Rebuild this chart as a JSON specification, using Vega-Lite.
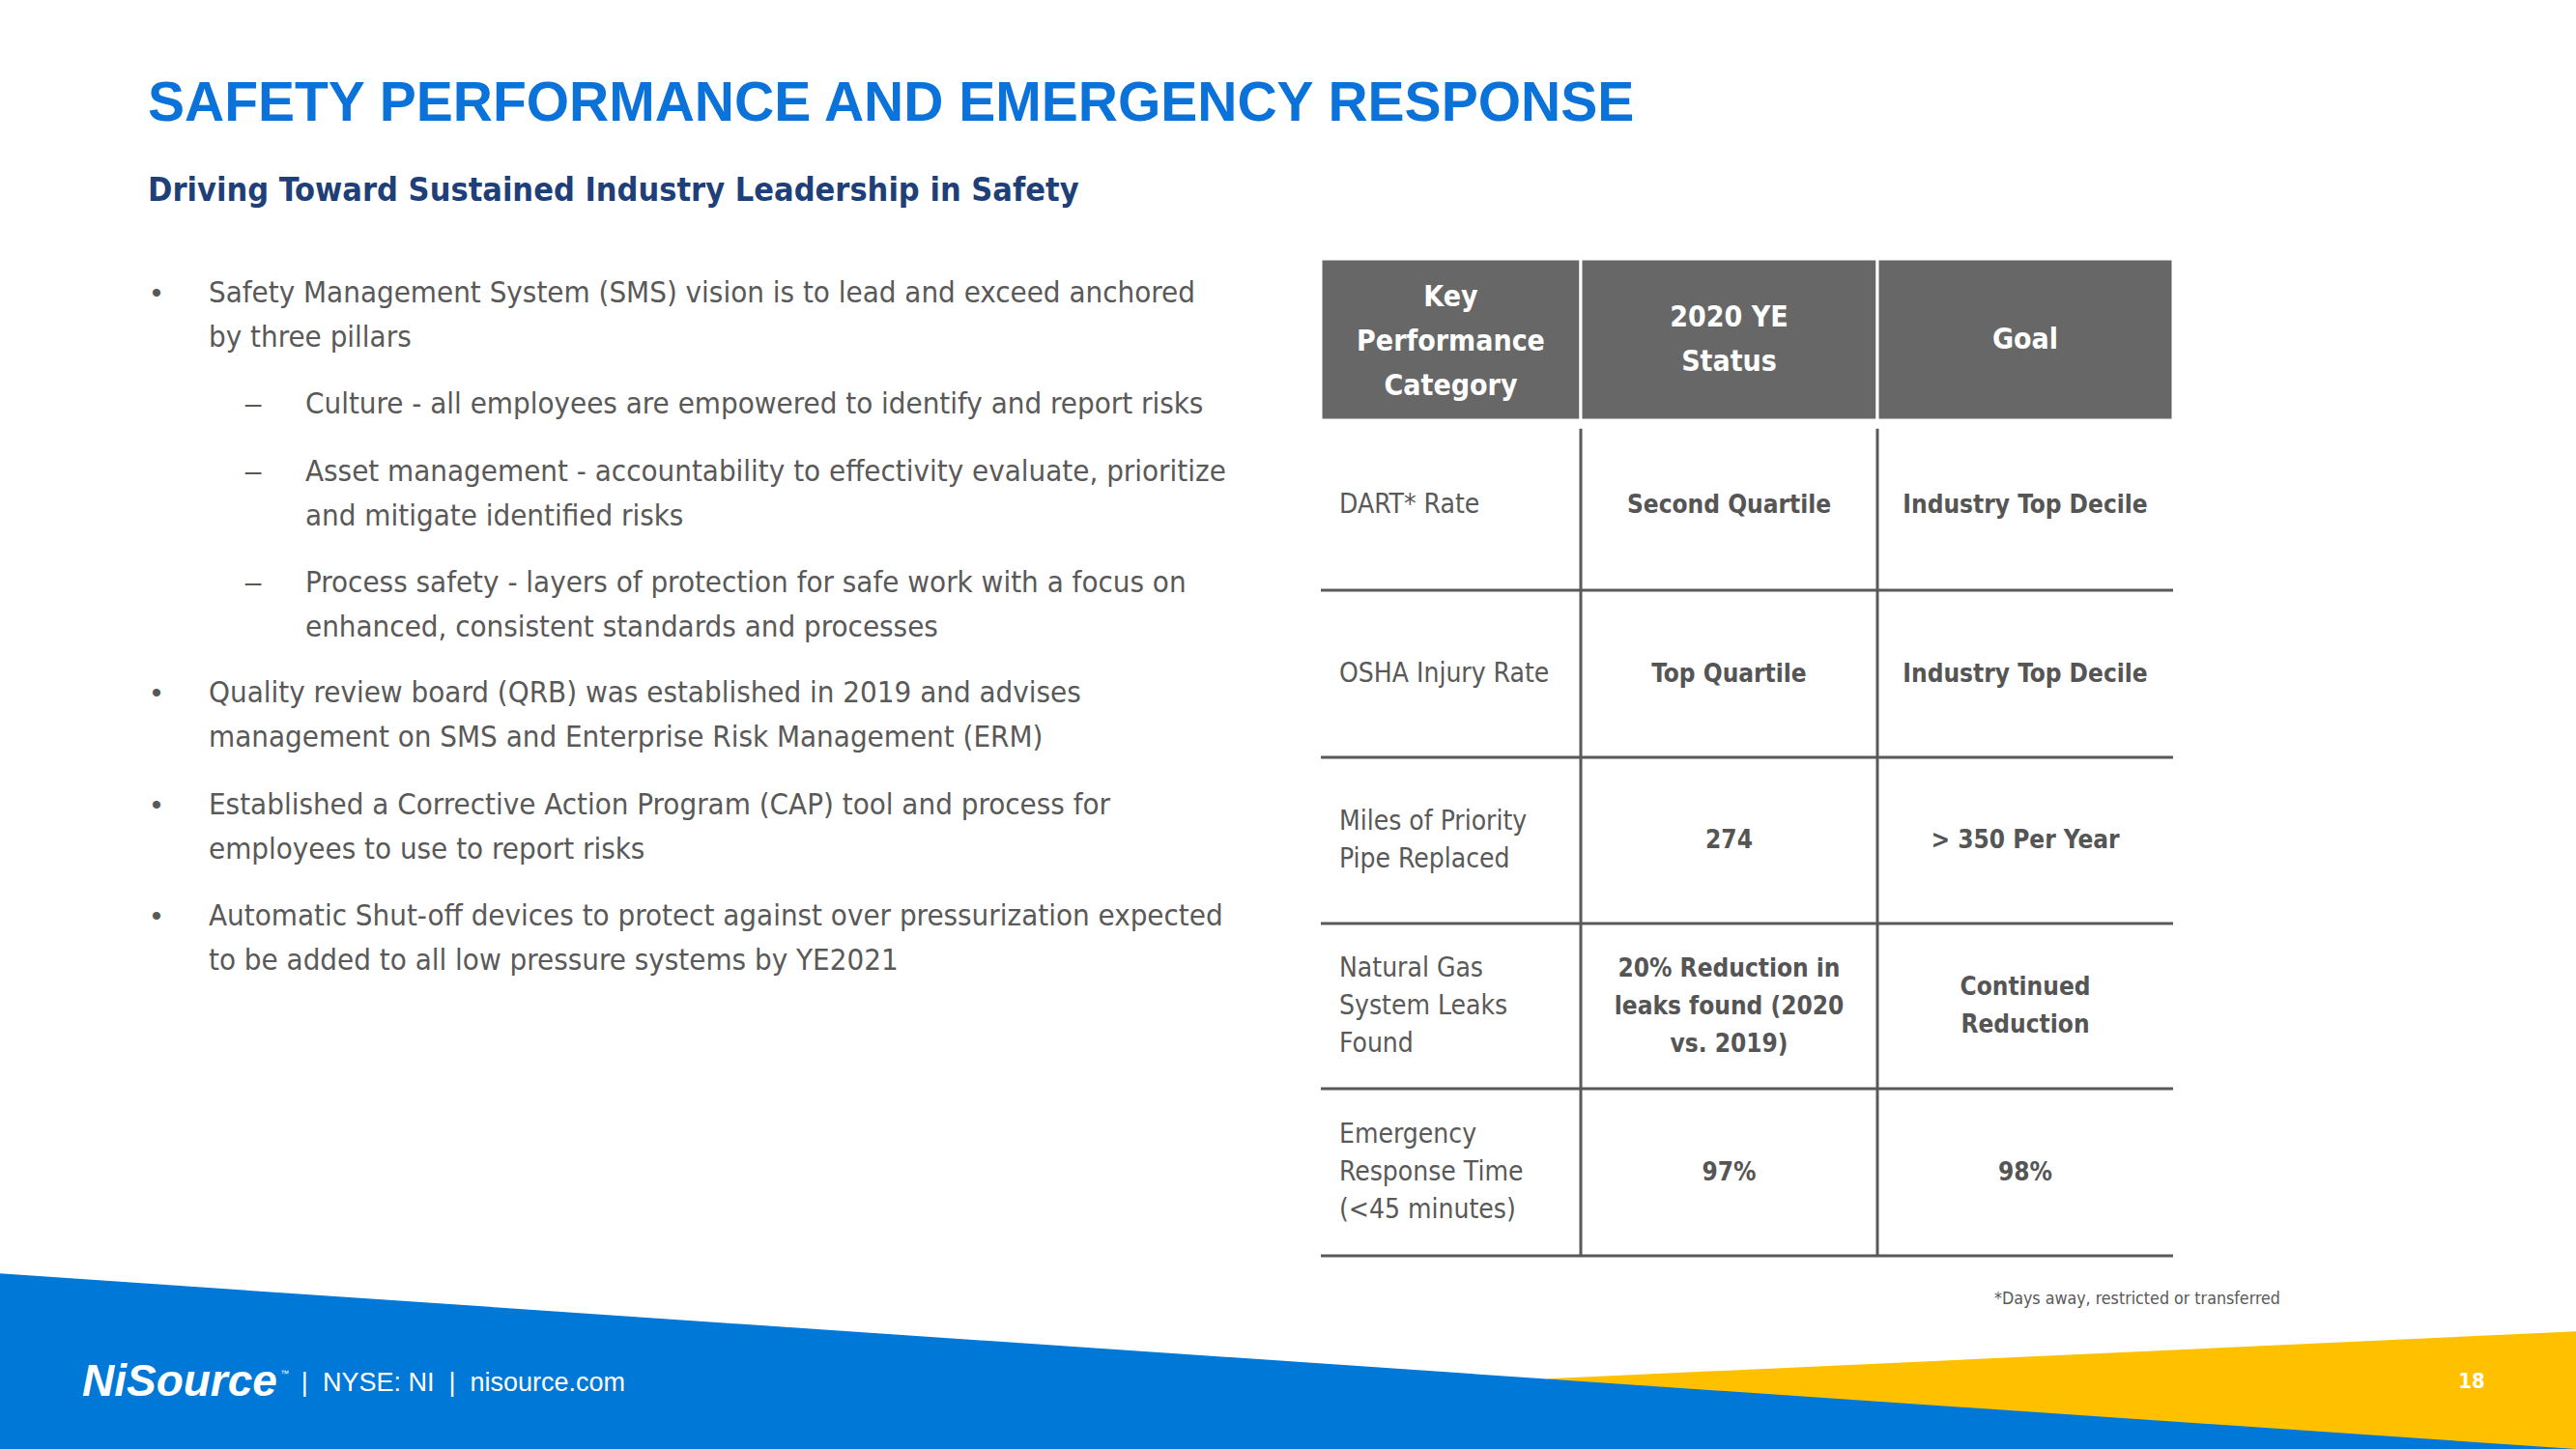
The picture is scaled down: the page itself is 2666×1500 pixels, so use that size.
{
  "$schema": "https://vega.github.io/schema/vega-lite/v6.json",
  "width": 2666,
  "height": 1500,
  "padding": 0,
  "autosize": {"type": "none"},
  "background": "white",
  "config": {"view": {"stroke": null}, "axis": {"disable": true}, "legend": {"disable": true}},
  "datasets": {
    "bullets": [
      {"para": 1, "level": 1, "marker": "•", "text": "Safety Management System (SMS) vision is to lead and exceed anchored\nby three pillars"},
      {"para": 2, "level": 2, "marker": "–", "text": "Culture - all employees are empowered to identify and report risks"},
      {"para": 3, "level": 2, "marker": "–", "text": "Asset management - accountability to effectivity evaluate, prioritize\nand mitigate identified risks"},
      {"para": 4, "level": 2, "marker": "–", "text": "Process safety - layers of protection for safe work with a focus on\nenhanced, consistent standards and processes"},
      {"para": 5, "level": 1, "marker": "•", "text": "Quality review board (QRB) was established in 2019 and advises\nmanagement on SMS and Enterprise Risk Management (ERM)"},
      {"para": 6, "level": 1, "marker": "•", "text": "Established a Corrective Action Program (CAP) tool and process for\nemployees to use to report risks"},
      {"para": 7, "level": 1, "marker": "•", "text": "Automatic Shut-off devices to protect against over pressurization expected\nto be added to all low pressure systems by YE2021"}
    ],
    "header": [
      {"c0": 0, "c1": 1, "cm": 0.5, "label": "Key\nPerformance\nCategory"},
      {"c0": 1, "c1": 2, "cm": 1.5, "label": "2020 YE\nStatus"},
      {"c0": 2, "c1": 3, "cm": 2.5, "label": "Goal"}
    ],
    "kpi": [
      {"row": 1, "category": "DART* Rate", "status": "Second Quartile", "goal": "Industry Top Decile"},
      {"row": 2, "category": "OSHA Injury Rate", "status": "Top Quartile", "goal": "Industry Top Decile"},
      {"row": 3, "category": "Miles of Priority\nPipe Replaced", "status": "274", "goal": "> 350 Per Year"},
      {"row": 4, "category": "Natural Gas\nSystem Leaks\nFound", "status": "20% Reduction in\nleaks found (2020\nvs. 2019)", "goal": "Continued\nReduction"},
      {"row": 5, "category": "Emergency\nResponse Time\n(<45 minutes)", "status": "97%", "goal": "98%"}
    ],
    "dividers": [{"col": 1}, {"col": 2}],
    "hlines": [{"edge": 1.5}, {"edge": 2.5}, {"edge": 3.5}, {"edge": 4.5}, {"edge": 5.5}]
  },
  "layer": [
    {
      "layer": [
        {
          "data": {"values": [{"x": 576.9, "top": 513.8, "floor": 540}, {"x": 960, "top": 496.2, "floor": 540}]},
          "mark": {"type": "area", "color": "#FFC000", "orient": "vertical"},
          "encoding": {
            "x": {"field": "x", "type": "quantitative", "scale": {"domain": [0, 960], "nice": false, "zero": false}},
            "y": {"field": "top", "type": "quantitative", "scale": {"domain": [0, 540], "reverse": true, "nice": false, "zero": false}},
            "y2": {"field": "floor"}
          }
        },
        {
          "data": {"values": [{"x": 0, "top": 474.6, "floor": 540}, {"x": 960, "top": 540, "floor": 540}]},
          "mark": {"type": "area", "color": "#0078D7", "orient": "vertical"},
          "encoding": {
            "x": {"field": "x", "type": "quantitative", "scale": {"domain": [0, 960], "nice": false, "zero": false}},
            "y": {"field": "top", "type": "quantitative", "scale": {"domain": [0, 540], "reverse": true, "nice": false, "zero": false}},
            "y2": {"field": "floor"}
          }
        },
        {
          "data": {"values": [{"t": "SAFETY PERFORMANCE AND EMERGENCY RESPONSE"}]},
          "mark": {"type": "text", "align": "left", "baseline": "alphabetic", "font": "'Liberation Sans', Arial, sans-serif", "fontWeight": "bold", "fontSize": 57, "color": "#0A72D8"},
          "encoding": {
            "x": {"datum": 55.1, "type": "quantitative", "scale": {"domain": [0, 960], "nice": false, "zero": false}},
            "y": {"datum": 45.0, "type": "quantitative", "scale": {"domain": [0, 540], "reverse": true, "nice": false, "zero": false}},
            "text": {"field": "t"}
          }
        },
        {
          "data": {"values": [{"t": "Driving Toward Sustained Industry Leadership in Safety"}]},
          "mark": {"type": "text", "align": "left", "baseline": "alphabetic", "font": "'DejaVu Sans Condensed', sans-serif", "fontWeight": "bold", "fontSize": 34, "color": "#1F3F78"},
          "encoding": {
            "x": {"datum": 55.1, "type": "quantitative", "scale": {"domain": [0, 960], "nice": false, "zero": false}},
            "y": {"datum": 74.9, "type": "quantitative", "scale": {"domain": [0, 540], "reverse": true, "nice": false, "zero": false}},
            "text": {"field": "t"}
          }
        },
        {
          "data": {"values": [{"t": "*Days away, restricted or transferred"}]},
          "mark": {"type": "text", "align": "left", "baseline": "alphabetic", "font": "'DejaVu Sans Condensed', sans-serif", "fontSize": 17.7, "color": "#595959"},
          "encoding": {
            "x": {"datum": 743.2, "type": "quantitative", "scale": {"domain": [0, 960], "nice": false, "zero": false}},
            "y": {"datum": 486.1, "type": "quantitative", "scale": {"domain": [0, 540], "reverse": true, "nice": false, "zero": false}},
            "text": {"field": "t"}
          }
        },
        {
          "data": {"values": [{"t": "NiSource"}]},
          "mark": {"type": "text", "align": "left", "baseline": "alphabetic", "font": "'Liberation Sans', Arial, sans-serif", "fontWeight": "bold", "fontStyle": "italic", "fontSize": 46, "color": "white"},
          "encoding": {
            "x": {"datum": 30.6, "type": "quantitative", "scale": {"domain": [0, 960], "nice": false, "zero": false}},
            "y": {"datum": 520.3, "type": "quantitative", "scale": {"domain": [0, 540], "reverse": true, "nice": false, "zero": false}},
            "text": {"field": "t"}
          }
        },
        {
          "data": {"values": [{"t": "™"}]},
          "mark": {"type": "text", "align": "left", "baseline": "alphabetic", "font": "'Liberation Sans', Arial, sans-serif", "fontSize": 9, "color": "white"},
          "encoding": {
            "x": {"datum": 104.5, "type": "quantitative", "scale": {"domain": [0, 960], "nice": false, "zero": false}},
            "y": {"datum": 513.1, "type": "quantitative", "scale": {"domain": [0, 540], "reverse": true, "nice": false, "zero": false}},
            "text": {"field": "t"}
          }
        },
        {
          "data": {"values": [{"t": "|\u00a0\u00a0NYSE: NI\u00a0\u00a0|\u00a0\u00a0nisource.com"}]},
          "mark": {"type": "text", "align": "left", "baseline": "alphabetic", "font": "'Liberation Sans', Arial, sans-serif", "fontSize": 27, "color": "white"},
          "encoding": {
            "x": {"datum": 112.3, "type": "quantitative", "scale": {"domain": [0, 960], "nice": false, "zero": false}},
            "y": {"datum": 518.4, "type": "quantitative", "scale": {"domain": [0, 540], "reverse": true, "nice": false, "zero": false}},
            "text": {"field": "t"}
          }
        },
        {
          "data": {"values": [{"t": "18"}]},
          "mark": {"type": "text", "align": "center", "baseline": "alphabetic", "font": "'DejaVu Sans Condensed', sans-serif", "fontWeight": "bold", "fontSize": 22, "color": "white"},
          "encoding": {
            "x": {"datum": 921.1, "type": "quantitative", "scale": {"domain": [0, 960], "nice": false, "zero": false}},
            "y": {"datum": 517.4, "type": "quantitative", "scale": {"domain": [0, 540], "reverse": true, "nice": false, "zero": false}},
            "text": {"field": "t"}
          }
        }
      ]
    },
    {
      "data": {"name": "bullets"},
      "layer": [
        {
          "mark": {"type": "text", "align": "left", "baseline": "alphabetic", "lineBreak": "\n", "lineHeight": 45.5, "font": "'DejaVu Sans Condensed', sans-serif", "fontSize": 31, "color": "#595959"},
          "encoding": {
            "x": {"field": "level", "type": "quantitative", "scale": {"domain": [1, 2], "range": [216, 316], "nice": false, "zero": false}},
            "y": {"field": "para", "type": "quantitative", "scale": {"domain": [1, 2, 3, 4, 5, 6, 7], "range": [313, 428, 498, 613, 727, 843, 958], "nice": false, "zero": false}},
            "text": {"field": "text"}
          }
        },
        {
          "mark": {"type": "text", "align": "center", "baseline": "alphabetic", "dx": -54, "font": "'Liberation Sans', Arial, sans-serif", "fontSize": 30, "color": "#595959"},
          "encoding": {
            "x": {"field": "level", "type": "quantitative", "scale": {"domain": [1, 2], "range": [216, 316], "nice": false, "zero": false}},
            "y": {"field": "para", "type": "quantitative", "scale": {"domain": [1, 2, 3, 4, 5, 6, 7], "range": [313, 428, 498, 613, 727, 843, 958], "nice": false, "zero": false}},
            "text": {"field": "marker"}
          }
        }
      ]
    },
    {
      "layer": [
        {
          "data": {"name": "header"},
          "mark": {"type": "rect", "fill": "#676767", "stroke": "white", "strokeWidth": 3},
          "encoding": {
            "x": {"field": "c0", "type": "quantitative", "scale": {"domain": [0, 1, 2, 3], "range": [1367, 1636, 1943, 2249], "nice": false, "zero": false}},
            "x2": {"field": "c1"},
            "y": {"datum": -0.5, "type": "quantitative", "scale": {"domain": [-0.5, 0.5, 1.5, 2.5, 3.5, 4.5, 5.5], "range": [268, 435, 611, 784, 956, 1127, 1300], "nice": false, "zero": false}},
            "y2": {"datum": 0.5}
          }
        },
        {
          "data": {"name": "header"},
          "transform": [{"filter": "length(split(datum.label, '\\n')) == 1"}],
          "mark": {"type": "text", "align": "center", "baseline": "middle", "lineBreak": "\n", "lineHeight": 46, "font": "'DejaVu Sans Condensed', sans-serif", "fontWeight": "bold", "fontSize": 30, "color": "white"},
          "encoding": {
            "x": {"field": "cm", "type": "quantitative", "scale": {"domain": [0, 1, 2, 3], "range": [1367, 1636, 1943, 2249], "nice": false, "zero": false}},
            "y": {"datum": 0, "type": "quantitative", "scale": {"domain": [-0.5, 0.5, 1.5, 2.5, 3.5, 4.5, 5.5], "range": [268, 435, 611, 784, 956, 1127, 1300], "nice": false, "zero": false}},
            "text": {"field": "label"}
          }
        },
        {
          "data": {"name": "header"},
          "transform": [{"filter": "length(split(datum.label, '\\n')) == 2"}],
          "mark": {"type": "text", "align": "center", "baseline": "middle", "dy": -23, "lineBreak": "\n", "lineHeight": 46, "font": "'DejaVu Sans Condensed', sans-serif", "fontWeight": "bold", "fontSize": 30, "color": "white"},
          "encoding": {
            "x": {"field": "cm", "type": "quantitative", "scale": {"domain": [0, 1, 2, 3], "range": [1367, 1636, 1943, 2249], "nice": false, "zero": false}},
            "y": {"datum": 0, "type": "quantitative", "scale": {"domain": [-0.5, 0.5, 1.5, 2.5, 3.5, 4.5, 5.5], "range": [268, 435, 611, 784, 956, 1127, 1300], "nice": false, "zero": false}},
            "text": {"field": "label"}
          }
        },
        {
          "data": {"name": "header"},
          "transform": [{"filter": "length(split(datum.label, '\\n')) == 3"}],
          "mark": {"type": "text", "align": "center", "baseline": "middle", "dy": -44, "lineBreak": "\n", "lineHeight": 46, "font": "'DejaVu Sans Condensed', sans-serif", "fontWeight": "bold", "fontSize": 30, "color": "white"},
          "encoding": {
            "x": {"field": "cm", "type": "quantitative", "scale": {"domain": [0, 1, 2, 3], "range": [1367, 1636, 1943, 2249], "nice": false, "zero": false}},
            "y": {"datum": 0, "type": "quantitative", "scale": {"domain": [-0.5, 0.5, 1.5, 2.5, 3.5, 4.5, 5.5], "range": [268, 435, 611, 784, 956, 1127, 1300], "nice": false, "zero": false}},
            "text": {"field": "label"}
          }
        },
        {
          "data": {"name": "dividers"},
          "mark": {"type": "rule", "color": "#595959", "strokeWidth": 3},
          "encoding": {
            "x": {"field": "col", "type": "quantitative", "scale": {"domain": [0, 1, 2, 3], "range": [1367, 1636, 1943, 2249], "nice": false, "zero": false}},
            "y": {"datum": 0.55, "type": "quantitative", "scale": {"domain": [-0.5, 0.5, 1.5, 2.5, 3.5, 4.5, 5.5], "range": [268, 435, 611, 784, 956, 1127, 1300], "nice": false, "zero": false}},
            "y2": {"datum": 5.5}
          }
        },
        {
          "data": {"name": "hlines"},
          "mark": {"type": "rule", "color": "#595959", "strokeWidth": 3},
          "encoding": {
            "x": {"datum": 0, "type": "quantitative", "scale": {"domain": [0, 1, 2, 3], "range": [1367, 1636, 1943, 2249], "nice": false, "zero": false}},
            "x2": {"datum": 3},
            "y": {"field": "edge", "type": "quantitative", "scale": {"domain": [-0.5, 0.5, 1.5, 2.5, 3.5, 4.5, 5.5], "range": [268, 435, 611, 784, 956, 1127, 1300], "nice": false, "zero": false}}
          }
        },
        {
          "data": {"name": "kpi"},
          "transform": [{"filter": "length(split(datum.category, '\\n')) == 1"}],
          "mark": {"type": "text", "align": "left", "baseline": "middle", "dx": 19, "lineBreak": "\n", "lineHeight": 39, "font": "'DejaVu Sans Condensed', sans-serif", "fontSize": 28, "color": "#595959"},
          "encoding": {
            "x": {"datum": 0, "type": "quantitative", "scale": {"domain": [0, 1, 2, 3], "range": [1367, 1636, 1943, 2249], "nice": false, "zero": false}},
            "y": {"field": "row", "type": "quantitative", "scale": {"domain": [-0.5, 0.5, 1.5, 2.5, 3.5, 4.5, 5.5], "range": [268, 435, 611, 784, 956, 1127, 1300], "nice": false, "zero": false}},
            "text": {"field": "category"}
          }
        },
        {
          "data": {"name": "kpi"},
          "transform": [{"filter": "length(split(datum.category, '\\n')) == 2"}],
          "mark": {"type": "text", "align": "left", "baseline": "middle", "dx": 19, "dy": -19.5, "lineBreak": "\n", "lineHeight": 39, "font": "'DejaVu Sans Condensed', sans-serif", "fontSize": 28, "color": "#595959"},
          "encoding": {
            "x": {"datum": 0, "type": "quantitative", "scale": {"domain": [0, 1, 2, 3], "range": [1367, 1636, 1943, 2249], "nice": false, "zero": false}},
            "y": {"field": "row", "type": "quantitative", "scale": {"domain": [-0.5, 0.5, 1.5, 2.5, 3.5, 4.5, 5.5], "range": [268, 435, 611, 784, 956, 1127, 1300], "nice": false, "zero": false}},
            "text": {"field": "category"}
          }
        },
        {
          "data": {"name": "kpi"},
          "transform": [{"filter": "length(split(datum.category, '\\n')) == 3"}],
          "mark": {"type": "text", "align": "left", "baseline": "middle", "dx": 19, "dy": -39, "lineBreak": "\n", "lineHeight": 39, "font": "'DejaVu Sans Condensed', sans-serif", "fontSize": 28, "color": "#595959"},
          "encoding": {
            "x": {"datum": 0, "type": "quantitative", "scale": {"domain": [0, 1, 2, 3], "range": [1367, 1636, 1943, 2249], "nice": false, "zero": false}},
            "y": {"field": "row", "type": "quantitative", "scale": {"domain": [-0.5, 0.5, 1.5, 2.5, 3.5, 4.5, 5.5], "range": [268, 435, 611, 784, 956, 1127, 1300], "nice": false, "zero": false}},
            "text": {"field": "category"}
          }
        },
        {
          "data": {"name": "kpi"},
          "transform": [{"filter": "length(split(datum.status, '\\n')) == 1"}],
          "mark": {"type": "text", "align": "center", "baseline": "middle", "lineBreak": "\n", "lineHeight": 39, "font": "'DejaVu Sans Condensed', sans-serif", "fontWeight": "bold", "fontSize": 26, "color": "#555555"},
          "encoding": {
            "x": {"datum": 1.5, "type": "quantitative", "scale": {"domain": [0, 1, 2, 3], "range": [1367, 1636, 1943, 2249], "nice": false, "zero": false}},
            "y": {"field": "row", "type": "quantitative", "scale": {"domain": [-0.5, 0.5, 1.5, 2.5, 3.5, 4.5, 5.5], "range": [268, 435, 611, 784, 956, 1127, 1300], "nice": false, "zero": false}},
            "text": {"field": "status"}
          }
        },
        {
          "data": {"name": "kpi"},
          "transform": [{"filter": "length(split(datum.status, '\\n')) == 3"}],
          "mark": {"type": "text", "align": "center", "baseline": "middle", "dy": -39, "lineBreak": "\n", "lineHeight": 39, "font": "'DejaVu Sans Condensed', sans-serif", "fontWeight": "bold", "fontSize": 26, "color": "#555555"},
          "encoding": {
            "x": {"datum": 1.5, "type": "quantitative", "scale": {"domain": [0, 1, 2, 3], "range": [1367, 1636, 1943, 2249], "nice": false, "zero": false}},
            "y": {"field": "row", "type": "quantitative", "scale": {"domain": [-0.5, 0.5, 1.5, 2.5, 3.5, 4.5, 5.5], "range": [268, 435, 611, 784, 956, 1127, 1300], "nice": false, "zero": false}},
            "text": {"field": "status"}
          }
        },
        {
          "data": {"name": "kpi"},
          "transform": [{"filter": "length(split(datum.goal, '\\n')) == 1"}],
          "mark": {"type": "text", "align": "center", "baseline": "middle", "lineBreak": "\n", "lineHeight": 39, "font": "'DejaVu Sans Condensed', sans-serif", "fontWeight": "bold", "fontSize": 26, "color": "#555555"},
          "encoding": {
            "x": {"datum": 2.5, "type": "quantitative", "scale": {"domain": [0, 1, 2, 3], "range": [1367, 1636, 1943, 2249], "nice": false, "zero": false}},
            "y": {"field": "row", "type": "quantitative", "scale": {"domain": [-0.5, 0.5, 1.5, 2.5, 3.5, 4.5, 5.5], "range": [268, 435, 611, 784, 956, 1127, 1300], "nice": false, "zero": false}},
            "text": {"field": "goal"}
          }
        },
        {
          "data": {"name": "kpi"},
          "transform": [{"filter": "length(split(datum.goal, '\\n')) == 2"}],
          "mark": {"type": "text", "align": "center", "baseline": "middle", "dy": -19.5, "lineBreak": "\n", "lineHeight": 39, "font": "'DejaVu Sans Condensed', sans-serif", "fontWeight": "bold", "fontSize": 26, "color": "#555555"},
          "encoding": {
            "x": {"datum": 2.5, "type": "quantitative", "scale": {"domain": [0, 1, 2, 3], "range": [1367, 1636, 1943, 2249], "nice": false, "zero": false}},
            "y": {"field": "row", "type": "quantitative", "scale": {"domain": [-0.5, 0.5, 1.5, 2.5, 3.5, 4.5, 5.5], "range": [268, 435, 611, 784, 956, 1127, 1300], "nice": false, "zero": false}},
            "text": {"field": "goal"}
          }
        }
      ]
    }
  ],
  "resolve": {"scale": {"x": "independent", "y": "independent"}}
}
